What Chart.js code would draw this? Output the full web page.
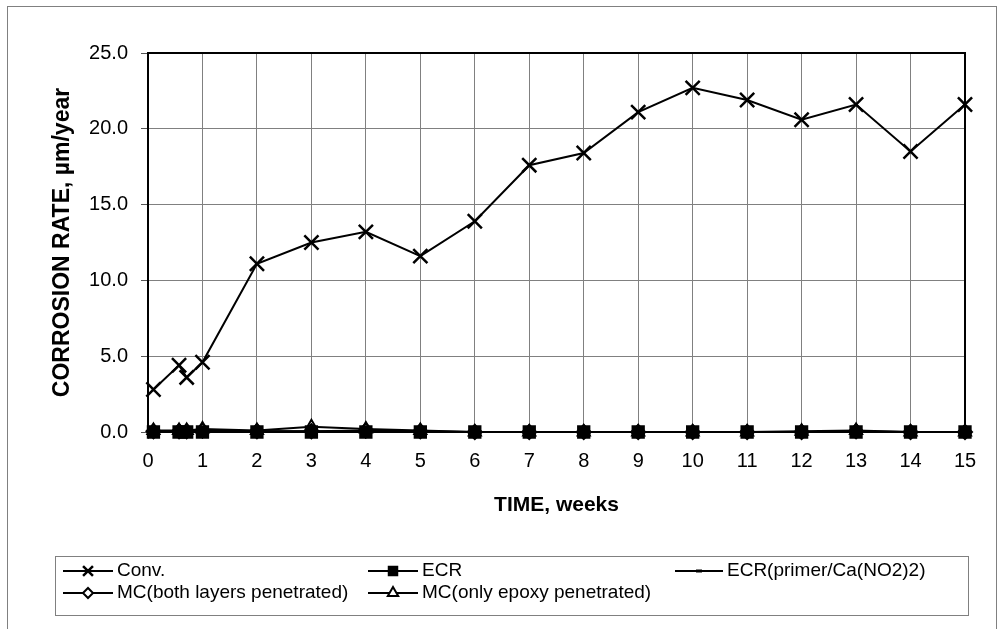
<!DOCTYPE html>
<html>
<head>
<meta charset="utf-8">
<script src="https://cdn.jsdelivr.net/npm/chart.js@4.4.1/dist/chart.umd.min.js"></script>
<style>
  body { margin: 0; background: #fff; }
  #wrap { position: relative; width: 1000px; height: 629px; }
</style>
</head>
<body>
<div id="wrap"><canvas id="chart"></canvas></div>
<script>
// time of each reading (weeks)
const weeks = [0.1, 0.57, 0.71, 1, 2, 3, 4, 5, 6, 7, 8, 9, 10, 11, 12, 13, 14, 15];

// corrosion rate, um/year
const conv      = [2.8, 4.4, 3.6, 4.6, 11.1, 12.5, 13.2, 11.6, 13.9, 17.6, 18.4, 21.1, 22.7, 21.9, 20.6, 21.6, 18.5, 21.6];
const ecr       = [0, 0, 0, 0, 0, 0, 0, 0, 0, 0, 0, 0, 0, 0, 0, 0, 0, 0];
const ecrPrimer = [0, 0, 0, 0.05, 0.05, 0.05, 0.02, 0, 0, 0, 0, 0, 0, 0, 0, 0, 0, 0];
const mcBoth    = [0.05, 0.05, 0.05, 0.1, 0.05, 0.05, 0.1, 0.05, 0, 0, 0, 0, 0, 0, 0, 0.05, 0, 0];
const mcEpoxy   = [0.1, 0.1, 0.1, 0.2, 0.1, 0.35, 0.2, 0.1, 0, 0, 0, 0, 0, 0, 0.05, 0.1, 0, 0];

const seriesNames = ["Conv.", "ECR", "ECR(primer/Ca(NO2)2)", "MC(both layers penetrated)", "MC(only epoxy penetrated)"];
const xTicks = [0, 15, 1];   // min, max, step
const yTicks = [0, 25, 5];

const FONT = "'Liberation Sans', Arial, sans-serif";

function pts(vals) {
  return vals.map((v, i) => ({ x: weeks[i], y: v }));
}

// marker style per series
const styles = [
  { pointStyle: "crossRot", radius: 10, fill: "#000", legendRadius: 7, bw: 2.5 },
  { pointStyle: "rect", radius: 8, fill: "#000", legendRadius: 6 },
  { pointStyle: "line", radius: 3, fill: "#000", legendRadius: 3, bw: 3 },
  { pointStyle: "rectRot", radius: 7, fill: "#fff", legendRadius: 5 },
  { pointStyle: "triangle", radius: 7, fill: "#fff", legendRadius: 6 }
];

const allData = [conv, ecr, ecrPrimer, mcBoth, mcEpoxy];

const datasets = allData.map((vals, i) => ({
  label: seriesNames[i],
  data: pts(vals),
  borderColor: "#000",
  backgroundColor: styles[i].fill,
  borderWidth: 2,
  pointStyle: styles[i].pointStyle,
  pointRadius: styles[i].radius,
  pointBorderWidth: styles[i].bw || 2,
  pointBorderColor: "#000",
  pointBackgroundColor: styles[i].fill,
  tension: 0,
  clip: false
}));

// frame, titles and the two-row legend box
const decor = {
  id: "decor",
  afterDraw(chart) {
    const ctx = chart.ctx;
    const a = chart.chartArea;
    ctx.save();
    // outer border
    ctx.strokeStyle = "#808080";
    ctx.lineWidth = 1;
    ctx.strokeRect(7.5, 6.5, 989, 640);
    // plot frame
    ctx.strokeStyle = "#000";
    ctx.lineWidth = 2;
    ctx.strokeRect(a.left, a.top, a.right - a.left, a.bottom - a.top);

    // axis titles
    ctx.fillStyle = "#000";
    ctx.font = "bold 21px " + FONT;
    ctx.textAlign = "center";
    ctx.textBaseline = "middle";
    ctx.fillText("TIME, weeks", (a.left + a.right) / 2, 505);
    ctx.font = "bold 23px " + FONT;
    ctx.translate(63, (a.top + a.bottom) / 2);
    ctx.rotate(-Math.PI / 2);
    ctx.fillText("CORROSION RATE, µm/year", 0, 0);
    ctx.restore();

    // legend
    ctx.save();
    ctx.strokeStyle = "#808080";
    ctx.lineWidth = 1;
    ctx.strokeRect(55.5, 556.5, 913, 59);
    const pos = [[63, 571], [368, 571], [675, 571], [63, 593], [368, 593]];
    ctx.font = "19px " + FONT;
    ctx.textAlign = "left";
    ctx.textBaseline = "middle";
    chart.data.datasets.forEach((ds, i) => {
      const [x, y] = pos[i];
      const w = i === 2 ? 48 : 50;
      ctx.strokeStyle = "#000";
      ctx.lineWidth = 2;
      ctx.beginPath();
      ctx.moveTo(x, y);
      ctx.lineTo(x + w, y);
      ctx.stroke();
      ctx.fillStyle = styles[i].fill;
      ctx.lineWidth = styles[i].bw || 2;
      Chart.helpers.drawPoint(ctx, {
        pointStyle: styles[i].pointStyle,
        radius: styles[i].legendRadius,
        rotation: 0,
        borderWidth: styles[i].bw || 2
      }, x + w / 2, y);
      ctx.fillStyle = "#000";
      ctx.fillText(ds.label, x + w + 4, y);
    });
    ctx.restore();
  }
};

new Chart(document.getElementById("chart"), {
  type: "line",
  data: { datasets },
  options: {
    responsive: true,
    maintainAspectRatio: false,
    animation: false,
    layout: { padding: { left: 0, top: 53, right: 35, bottom: 0 } },
    plugins: { legend: { display: false }, tooltip: { enabled: false } },
    scales: {
      x: {
        type: "linear",
        min: xTicks[0],
        max: xTicks[1],
        afterFit: s => { s.height = 197; },
        ticks: { stepSize: xTicks[2], padding: 10, color: "#000", font: { family: FONT, size: 20 } },
        grid: { color: "#808080", tickColor: "#555", tickLength: 7 },
        border: { color: "#000", width: 2 }
      },
      y: {
        min: yTicks[0],
        max: yTicks[1],
        afterFit: s => { s.width = 148; },
        ticks: {
          stepSize: yTicks[2],
          padding: 13,
          color: "#000",
          font: { family: FONT, size: 20 },
          callback: v => v.toFixed(1)
        },
        grid: { color: "#808080", tickColor: "#555", tickLength: 7 },
        border: { color: "#000", width: 2 }
      }
    }
  },
  plugins: [decor]
});
</script>
</body>
</html>
